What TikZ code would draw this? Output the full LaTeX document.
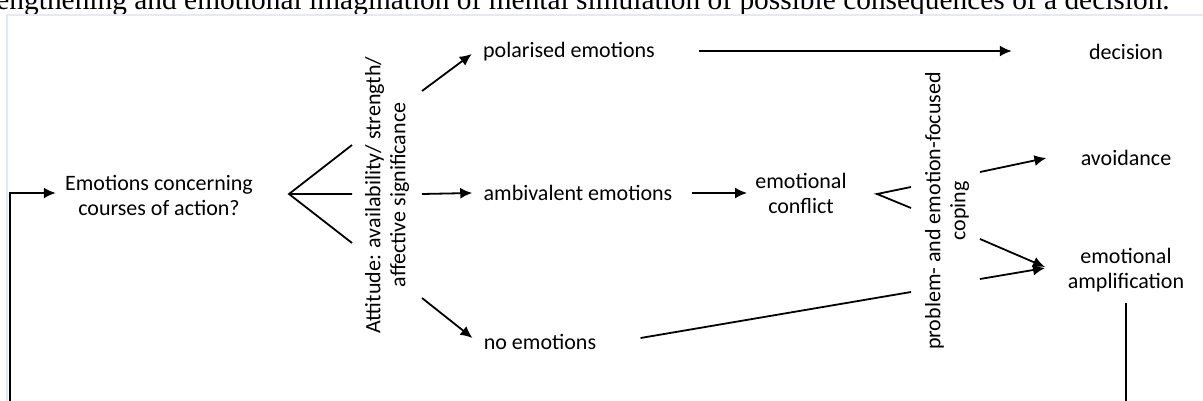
\documentclass[tikz,border=0pt]{standalone}
\usepackage{fontspec}
\setmainfont{Carlito}
\newfontfamily\captionfont{Liberation Serif}
\usetikzlibrary{arrows.meta,positioning,calc}
\definecolor{framegray}{RGB}{228,234,243}

\begin{document}
\begin{tikzpicture}[x=0.5pt,y=-0.5pt]
\tikzset{every node/.style={font=\fontsize{11}{12.5}\selectfont,align=center,inner sep=0pt}}
\tikzset{flow/.style={line width=0.9pt,-{Latex[length=6pt,width=5.5pt]}},link/.style={line width=0.9pt},turned/.style={rotate=90}}
\useasboundingbox (0,0) rectangle (1203,401);
\node[anchor=base west,font=\captionfont\fontsize{14.7}{16}\selectfont] (caption) at (-4,10) {engthening and emotional imagination of mental simulation of possible consequences of a decision.};
\draw[framegray,line width=1.2pt] (7,401) -- (7,15) -- (1203,15);

\node (emo) at (159,195) {Emotions concerning\\courses of action?};
\node[turned] (att) at (387,195) {Attitude: availability/ strength/\\affective significance};
\node (pol) at (569,52) {polarised emotions};
\node (amb) at (578,193) {ambivalent emotions};
\node (noemo) at (540,342) {no emotions};
\node (dec) at (1126,52) {decision};
\node (confl) at (801,193) {emotional\\conflict};
\node[turned] (cop) at (947,211) {problem- and emotion-focused\\coping};
\node (avoid) at (1126,158) {avoidance};
\node (ampl) at (1126,270) {emotional\\amplification};

\coordinate (loop) at (10,401);
\coordinate (fan) at (289,194);
\coordinate (fanT) at (352,145);
\coordinate (fanM) at (352,194);
\coordinate (fanB) at (352,243);
\coordinate (attT) at (422,91);
\coordinate (attM) at (422,194);
\coordinate (attB) at (422,298);
\coordinate (conflfan) at (877,194);
\coordinate (copT) at (911,187);
\coordinate (copB) at (911,208);
\coordinate (copL) at (911,292);
\coordinate (copR1) at (980,172);
\coordinate (copR2) at (980,239);
\coordinate (copR3) at (980,279);

\draw[flow] (loop) |- ([xshift=-4.5pt,yshift=1pt]emo.west);
\draw[link] (ampl) ++(0,33) -- (ampl |- loop);
\draw[link] (fanT) -- (fan) -- (fanB) (fan) -- (fanM);
\draw[flow] (attT) -- ([shift={(-5.5pt,-1pt)}]pol.west);
\draw[flow] (attM) -- ([xshift=-5.5pt]amb.west);
\draw[flow] (attB) -- ([shift={(-5.5pt,2pt)}]noemo.west);
\draw[flow] ([xshift=22pt,yshift=0.5pt]pol.east) -- ([xshift=-38.5pt,yshift=0.5pt]dec.west);
\draw[flow] ([xshift=9.5pt]amb.east) -- ([xshift=-4pt]confl.west);
\draw[link] (copT) -- (conflfan) -- (copB);
\draw[link] ([xshift=22pt,yshift=2pt]noemo.east) -- (copL);
\draw[flow] (copR1) -- ([xshift=-17pt]avoid.west);
\draw[flow] (copR2) -- (1045,267);
\draw[flow] (copR3) -- (1045,268);
\end{tikzpicture}
\end{document}
